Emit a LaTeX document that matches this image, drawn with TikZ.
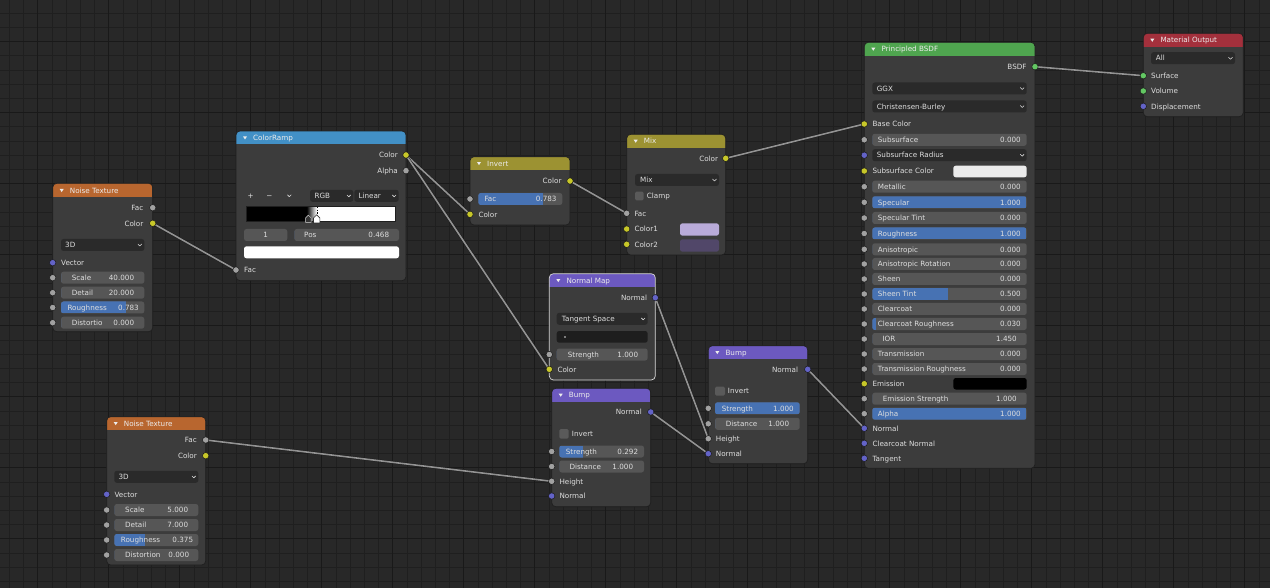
\documentclass[tikz,border=0pt]{standalone}
\usepackage{fontspec}
\setmainfont{DejaVu Sans}
\pgfdeclarelayer{bg}\pgfdeclarelayer{wl}\pgfsetlayers{bg,wl,main}
\definecolor{bgc}{HTML}{282828}
\definecolor{gridc}{HTML}{1f1f1f}
\definecolor{gridm}{HTML}{191919}
\definecolor{nbody}{HTML}{3c3c3c}
\definecolor{nedge}{HTML}{1f1f1f}
\definecolor{selc}{HTML}{d8d8d8}
\definecolor{fieldc}{HTML}{565656}
\definecolor{menuc}{HTML}{2a2a2a}
\definecolor{uvc}{HTML}{1e1e1e}
\definecolor{slider}{HTML}{4772b3}
\definecolor{txt}{HTML}{dedede}
\definecolor{htxt}{HTML}{ececec}
\definecolor{sgray}{HTML}{a1a1a1}
\definecolor{syel}{HTML}{c7c729}
\definecolor{spur}{HTML}{6363c7}
\definecolor{sgrn}{HTML}{63c763}
\definecolor{sockedge}{HTML}{1a1a1a}
\definecolor{wirec}{HTML}{939393}
\definecolor{wireedge}{HTML}{1c1c1c}
\definecolor{htex}{HTML}{b8662f}
\definecolor{hconv}{HTML}{4290c6}
\definecolor{hcol}{HTML}{9c9232}
\definecolor{hvec}{HTML}{6c59c0}
\definecolor{hshd}{HTML}{4fa54f}
\definecolor{hout}{HTML}{a3303c}
\definecolor{lav}{HTML}{b9abd9}
\definecolor{dpur}{HTML}{514769}
\definecolor{cbox}{HTML}{5a5a5a}
\definecolor{swl}{HTML}{ebebeb}
\tikzset{
 nbox/.style={rectangle, rounded corners=4pt, fill=nbody, inner sep=0pt, outer sep=0pt},
 fbox/.style={rectangle, rounded corners=2.5pt, fill=fieldc, inner sep=0pt, minimum height=12pt},
 mbox/.style={rectangle, rounded corners=2.5pt, fill=menuc, inner sep=0pt, minimum height=12pt},
 lbl/.style={inner sep=0pt, text=txt},
 hlbl/.style={inner sep=0pt, text=htxt},
 sock/.style={circle, minimum size=6.4pt, inner sep=0pt, draw=sockedge, line width=0.5pt},
 wire/.style={draw=wireedge, line width=0.45pt, double=wirec, double distance=1.6pt, line cap=round},
 chev/.style={draw=txt, line width=0.6pt, line cap=round, line join=round},
 swbox/.style={rectangle, rounded corners=2.5pt, inner sep=0pt},
}
\newcount\nc
\newcommand\nm{\global\advance\nc by 1\relax}
\newcommand\tl[3]{\nm\node[lbl,anchor=mid west] (t\the\nc) at (#1,#2) {#3};}
\newcommand\tr[3]{\nm\node[lbl,anchor=mid east] (t\the\nc) at (#1,#2) {#3};}
\newcommand\tc[3]{\nm\node[lbl,anchor=mid] (t\the\nc) at (#1,#2) {#3};}
\newcommand\sk[4]{\node[sock,fill=#4] (#1) at (#2,#3) {};}
\newcommand\fbx[3]{\nm\node[fbox, minimum width={(#2-(#1))*1pt}] (f\the\nc) at ({(#1+#2)/2},#3) {};}
\newcommand\fld[8]{%
 \fbx{#1}{#2}{#3}%
 \begin{scope}\clip[rounded corners=2.5pt] (#1,#3-6) rectangle (#2,#3+6);
 \fill[slider] (#1,#3-6) rectangle (#4,#3+6);\end{scope}%
 \tl{#5}{#3}{#6}\tr{#7}{#3}{#8}}
\newcommand\chv[2]{\draw[chev] ({#1-1.8},{#2-0.8}) -- (#1,{#2+1}) -- ({#1+1.8},{#2-0.8});}
\newcommand\mnu[5]{\nm\node[mbox, minimum width={(#2-(#1))*1pt}] (m\the\nc) at ({(#1+#2)/2},#3) {};
 \tl{#4}{#3}{#5}\chv{#2-4.5}{#3}}
\newcommand\cbx[4]{\nm\node[rectangle, rounded corners=1.5pt, fill=cbox, inner sep=0pt, minimum width={(#3-(#1))*1pt}, minimum height={(#4-(#2))*1pt}] (c\the\nc) at ({(#1+#3)/2},{(#2+#4)/2}) {};}
\newcommand\sw[5]{\nm\node[swbox, fill=#5, minimum width={(#3-(#1))*1pt}, minimum height={(#4-(#2))*1pt}] (s\the\nc) at ({(#1+#3)/2},{(#2+#4)/2}) {};}
\newcommand\bnode[9]{%
 \node[nbox, minimum width={(#4-(#2))*1pt}, minimum height={(#6-(#3))*1pt}] (#1) at ({(#2+#4)/2},{(#3+#6)/2}) {};
 \begin{scope}\clip[rounded corners=4pt] (#2,#3) rectangle (#4,#6);
 \fill[#7] (#2,#3) rectangle (#4,#5);\end{scope}
 \draw[#9, line width=0.7pt, rounded corners=4pt] (#1.north west) rectangle (#1.south east);
 \node[hlbl, anchor=mid west] (#1-title) at ({#2+17},{(#3+#5)/2}) {#8};
 \fill[htxt] ({#2+7},{(#3+#5)/2-1.3}) -- ({#2+11},{(#3+#5)/2-1.3}) -- ({#2+9},{(#3+#5)/2+1.8}) -- cycle;
}
\begin{document}
\begin{tikzpicture}[x=1pt,y=-1pt,font=\fontsize{7.2}{8.6}\selectfont]
\useasboundingbox (0,0) rectangle (1270,588);
\begin{pgfonlayer}{bg}
\fill[bgc] (0,0) rectangle (1270,588);
\foreach \k in {0,...,89}{\draw[gridc,line width=0.8pt] ({9.3+14.2*\k},0) -- ({9.3+14.2*\k},588);}
\foreach \k in {0,...,41}{\draw[gridc,line width=0.8pt] (0,{13.3+14.2*\k}) -- (1270,{13.3+14.2*\k});}
\foreach \k in {2,7,...,87}{\draw[gridm,line width=1pt] ({9.3+14.2*\k},0) -- ({9.3+14.2*\k},588);}
\foreach \k in {2,7,...,41}{\draw[gridm,line width=1pt] (0,{13.3+14.2*\k}) -- (1270,{13.3+14.2*\k});}
\end{pgfonlayer}

% Noise Texture (top)
\bnode{noiseA}{52.7}{183.3}{152.7}{197.3}{331.7}{htex}{Noise Texture}{nedge}
\tr{143.5}{207.7}{Fac}\sk{n1fac}{152.7}{207.7}{sgray}
\tr{143.5}{223.3}{Color}\sk{n1col}{152.7}{223.3}{syel}
\mnu{61}{144.3}{245}{65}{3D}
\tl{61}{262.7}{Vector}\sk{n1vec}{52.7}{262.7}{spur}
\fld{61}{144.3}{277.7}{61}{71.7}{Scale}{134.3}{40.000}\sk{n1sc}{52.7}{277.7}{sgray}
\fld{61}{144.3}{292.7}{61}{71.7}{Detail}{134.3}{20.000}\sk{n1de}{52.7}{292.7}{sgray}
\fld{61}{144.3}{307.5}{126}{67.3}{Roughness}{139}{0.783}\sk{n1ro}{52.7}{307.5}{sgray}
\fld{61}{144.3}{322.7}{61}{71.7}{Distortio}{134.3}{0.000}\sk{n1di}{52.7}{322.7}{sgray}

% Noise Texture (bottom)
\bnode{noiseB}{106.7}{416.7}{205.7}{430}{565}{htex}{Noise Texture}{nedge}
\tr{197}{440}{Fac}\sk{n2fac}{205.7}{440}{sgray}
\tr{197}{455.7}{Color}\sk{n2col}{205.7}{455.7}{syel}
\mnu{114.3}{198.3}{476.8}{118.3}{3D}
\tl{114.3}{494.3}{Vector}\sk{n2vec}{106.7}{494.3}{spur}
\fld{114.3}{198.3}{510}{114.3}{125}{Scale}{188.3}{5.000}\sk{n2sc}{106.7}{510}{sgray}
\fld{114.3}{198.3}{525}{114.3}{125}{Detail}{188.3}{7.000}\sk{n2de}{106.7}{525}{sgray}
\fld{114.3}{198.3}{540}{145}{120.7}{Roughness}{193.3}{0.375}\sk{n2ro}{106.7}{540}{sgray}
\fld{114.3}{198.3}{555}{114.3}{125}{Distortion}{189.3}{0.000}\sk{n2di}{106.7}{555}{sgray}

% ColorRamp
\bnode{ramp}{236}{131}{406}{144.3}{280.7}{hconv}{ColorRamp}{nedge}
\tr{398}{155}{Color}\sk{crcol}{406}{155}{syel}
\tr{398}{170.7}{Alpha}\sk{cralp}{406}{170.7}{sgray}
\tc{250.7}{195.7}{+}\tc{269.3}{195.7}{−}\chv{289.3}{195.7}
\mnu{310}{353.3}{195.8}{314.3}{RGB}
\mnu{354.3}{398.7}{195.8}{358.3}{Linear}
\fill[black] (246.7,206.7) rectangle (306.7,221);
\shade[left color=black,right color=white] (306.7,206.7) rectangle (316.7,221);
\fill[white] (316.7,206.7) rectangle (395.3,221);
\draw[nedge,line width=0.6pt] (246.7,206.7) rectangle (395.3,221);
\draw[black,line width=0.6pt,dash pattern=on 1.5pt off 1.2pt] (317,207) -- (317,214.5);
\filldraw[fill=black!80,draw=white!85!black,line width=0.5pt] (305.5,222.5) -- (311.1,222.5) -- (311.1,218) -- (308.3,215.2) -- (305.5,218) -- cycle;
\filldraw[fill=white,draw=black!80,line width=0.6pt] (313.5,223) -- (319.9,223) -- (319.9,218) -- (316.7,214.8) -- (313.5,218) -- cycle;
\fbx{244}{287.3}{235}\tc{265.6}{235}{1}
\fld{294.3}{399}{235}{294.3}{304}{Pos}{389.3}{0.468}
\sw{244}{246.3}{399}{258.3}{white}
\tl{244}{270}{Fac}\sk{crfac}{236}{270}{sgray}

% Invert
\bnode{invert}{470}{156.7}{570}{170}{225}{hcol}{Invert}{nedge}
\tr{561.7}{181}{Color}\sk{invout}{570}{181}{syel}
\fld{478.3}{562.3}{199}{543.3}{484.3}{Fac}{556.7}{0.783}\sk{invfac}{470}{199}{sgray}
\tl{478.3}{214.3}{Color}\sk{invcol}{470}{214.3}{syel}

% Mix
\bnode{mix}{626.7}{134.3}{725.7}{147.7}{255}{hcol}{Mix}{nedge}
\tr{718.3}{158.3}{Color}\sk{mixout}{725.7}{158.3}{syel}
\mnu{635}{719}{180}{640}{Mix}
\cbx{635}{191.7}{643.7}{200.3}\tl{646.7}{196}{Clamp}
\tl{634.3}{213.3}{Fac}\sk{mixfac}{626.7}{213.3}{sgray}
\tl{634.3}{229}{Color1}\sk{mixc1}{626.7}{229}{syel}\sw{680}{223.3}{719}{235.7}{lav}
\tl{634.3}{244.3}{Color2}\sk{mixc2}{626.7}{244.3}{syel}\sw{680}{239.3}{719}{251.7}{dpur}

% Normal Map
\bnode{nmap}{549.3}{273.7}{655.3}{287}{380}{hvec}{Normal Map}{selc}
\tr{647.3}{297.7}{Normal}\sk{nmout}{655.3}{297.7}{spur}
\mnu{556.7}{647.7}{318.8}{561.7}{Tangent Space}
\sw{556.7}{331}{647.7}{342.7}{uvc}
\fill[txt] (565,337) circle (0.9);
\fld{556.7}{647.7}{354.5}{556.7}{567.7}{Strength}{638.3}{1.000}\sk{nmstr}{549.3}{354.5}{sgray}
\tl{557.3}{369.3}{Color}\sk{nmcol}{549.3}{369.3}{syel}

% Bump (lower)
\bnode{bumpA}{551.7}{388.3}{650.7}{401.7}{506.7}{hvec}{Bump}{nedge}
\tr{642}{412}{Normal}\sk{b1out}{650.7}{412}{spur}
\cbx{559.3}{429}{568.7}{438.7}\tl{571.7}{433.8}{Invert}
\fld{559.3}{644}{451.5}{582.7}{565.7}{Strength}{638.3}{0.292}\sk{b1str}{551.7}{451.5}{sgray}
\fld{559.3}{644}{466.5}{559.3}{569.3}{Distance}{633.3}{1.000}\sk{b1dis}{551.7}{466.5}{sgray}
\tl{559.3}{481.3}{Height}\sk{b1hei}{551.7}{481.3}{sgray}
\tl{559.3}{496}{Normal}\sk{b1nor}{551.7}{496}{spur}

% Bump (upper)
\bnode{bumpB}{708.3}{345.7}{807.7}{359}{463.7}{hvec}{Bump}{nedge}
\tr{798.3}{369.3}{Normal}\sk{b2out}{807.7}{369.3}{spur}
\cbx{715}{386.7}{725}{395.7}\tl{727.7}{391}{Invert}
\fld{715}{799.7}{408.3}{799.7}{721.7}{Strength}{794}{1.000}\sk{b2str}{708.3}{408.3}{sgray}
\fld{715}{799.7}{423.8}{715}{725.7}{Distance}{789.3}{1.000}\sk{b2dis}{708.3}{423.8}{sgray}
\tl{715.7}{438.7}{Height}\sk{b2hei}{708.3}{438.7}{sgray}
\tl{715.7}{453.7}{Normal}\sk{b2nor}{708.3}{453.7}{spur}

% Principled BSDF
\bnode{bsdf}{864.3}{42.3}{1035}{55.7}{468.3}{hshd}{Principled BSDF}{nedge}
\tr{1026.7}{66.7}{BSDF}\sk{pbout}{1035}{66.7}{sgrn}
\mnu{872.3}{1026.7}{88.5}{876.7}{GGX}
\mnu{872.3}{1026.7}{106.5}{876.7}{Christensen-Burley}
\tl{872.3}{124}{Base Color}\sk{pbbase}{864.3}{124}{syel}
\fld{872.3}{1026.7}{139.8}{872.3}{877.7}{Subsurface}{1021}{0.000}\sk{pbsub}{864.3}{139.8}{sgray}
\mnu{872.3}{1026.7}{155.2}{876.7}{Subsurface Radius}\sk{pbsubr}{864.3}{155.2}{spur}
\tl{872.3}{171}{Subsurface Color}\sk{pbsubc}{864.3}{171}{syel}\sw{953.3}{165.7}{1026.7}{177.3}{swl}
\fld{872.3}{1026.7}{186.7}{872.3}{877.7}{Metallic}{1021}{0.000}\sk{pbmet}{864.3}{186.7}{sgray}
\fld{872.3}{1026.7}{202.3}{1026.7}{877.7}{Specular}{1021}{1.000}\sk{pbspec}{864.3}{202.3}{sgray}
\fld{872.3}{1026.7}{218}{872.3}{877.7}{Specular Tint}{1021}{0.000}\sk{pbspt}{864.3}{218}{sgray}
\fld{872.3}{1026.7}{233.5}{1026.7}{877.7}{Roughness}{1021}{1.000}\sk{pbrou}{864.3}{233.5}{sgray}
\fld{872.3}{1026.7}{249.3}{872.3}{877.7}{Anisotropic}{1021}{0.000}\sk{pbani}{864.3}{249.3}{sgray}
\fld{872.3}{1026.7}{264}{872.3}{877.7}{Anisotropic Rotation}{1021}{0.000}\sk{pbanr}{864.3}{264}{sgray}
\fld{872.3}{1026.7}{279}{872.3}{877.7}{Sheen}{1021}{0.000}\sk{pbshe}{864.3}{279}{sgray}
\fld{872.3}{1026.7}{294}{948.3}{877.7}{Sheen Tint}{1021}{0.500}\sk{pbsht}{864.3}{294}{sgray}
\fld{872.3}{1026.7}{309}{872.3}{877.7}{Clearcoat}{1021}{0.000}\sk{pbcc}{864.3}{309}{sgray}
\fld{872.3}{1026.7}{324}{875.5}{877.7}{Clearcoat Roughness}{1021}{0.030}\sk{pbccr}{864.3}{324}{sgray}
\fld{872.3}{1026.7}{339}{872.3}{882.3}{IOR}{1017}{1.450}\sk{pbior}{864.3}{339}{sgray}
\fld{872.3}{1026.7}{354}{872.3}{877.7}{Transmission}{1021}{0.000}\sk{pbtra}{864.3}{354}{sgray}
\fld{872.3}{1026.7}{369}{872.3}{877.7}{Transmission Roughness}{1021}{0.000}\sk{pbtrr}{864.3}{369}{sgray}
\tl{872.3}{383.7}{Emission}\sk{pbemi}{864.3}{383.7}{syel}\sw{953.3}{378}{1026.7}{389.5}{black}
\fld{872.3}{1026.7}{398.7}{872.3}{882.7}{Emission Strength}{1017}{1.000}\sk{pbems}{864.3}{398.7}{sgray}
\fld{872.3}{1026.7}{413.7}{1026.7}{877.7}{Alpha}{1021}{1.000}\sk{pbalp}{864.3}{413.7}{sgray}
\tl{872.3}{428.3}{Normal}\sk{pbnor}{864.3}{428.3}{spur}
\tl{872.3}{443.3}{Clearcoat Normal}\sk{pbccn}{864.3}{443.3}{spur}
\tl{872.3}{458.3}{Tangent}\sk{pbtan}{864.3}{458.3}{spur}

% Material Output
\bnode{mout}{1143.3}{33.3}{1243.3}{46.7}{116.7}{hout}{Material Output}{nedge}
\mnu{1151}{1235}{58.2}{1155.7}{All}
\tl{1151}{75.7}{Surface}\sk{mosurf}{1143.3}{75.7}{sgrn}
\tl{1151}{91}{Volume}\sk{movol}{1143.3}{91}{sgrn}
\tl{1151}{106.3}{Displacement}\sk{modisp}{1143.3}{106.3}{spur}

\begin{pgfonlayer}{wl}
\draw[wire] (n1col.center) -- (crfac.center);
\draw[wire] (crcol.center) -- (invcol.center);
\draw[wire] (crcol.center) -- (nmcol.center);
\draw[wire] (invout.center) -- (mixfac.center);
\draw[wire] (mixout.center) -- (pbbase.center);
\draw[wire] (pbout.center) -- (mosurf.center);
\draw[wire] (n2fac.center) -- (b1hei.center);
\draw[wire] (nmout.center) -- (b2hei.center);
\draw[wire] (b1out.center) -- (b2nor.center);
\draw[wire] (b2out.center) -- (pbnor.center);
\end{pgfonlayer}
\end{tikzpicture}
\end{document}
